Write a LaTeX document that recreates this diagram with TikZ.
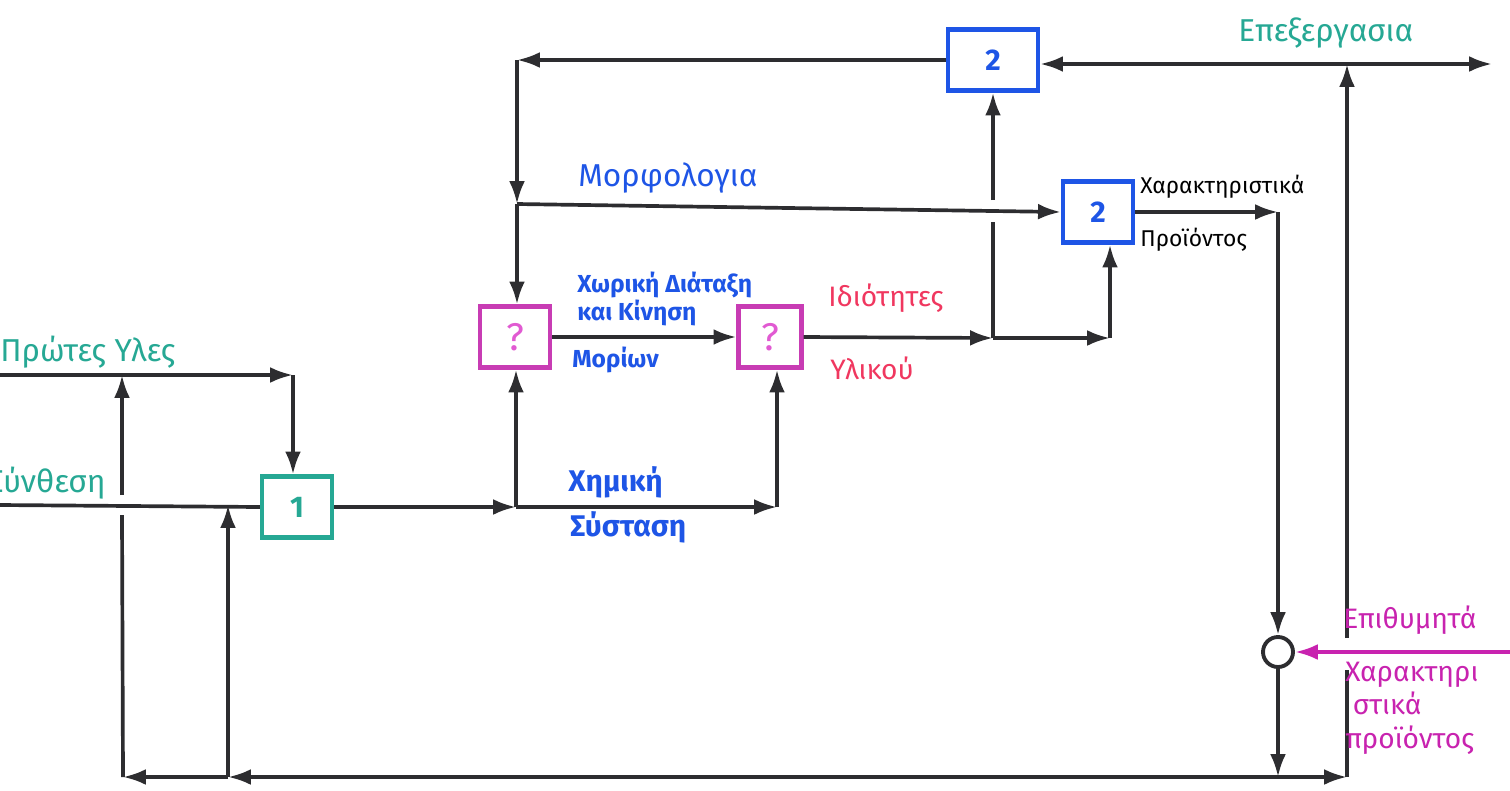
\documentclass[tikz,border=0pt]{standalone}
\usepackage{fontspec}
\setmainfont{Fira Sans}
\usetikzlibrary{positioning, arrows.meta, calc}

\definecolor{tealink}{RGB}{38,168,148}
\definecolor{blueink}{RGB}{30,85,230}
\definecolor{magink}{RGB}{200,60,180}
\definecolor{qink}{RGB}{225,90,210}
\definecolor{redink}{RGB}{240,55,95}
\definecolor{purpink}{RGB}{200,35,175}
\definecolor{lineink}{RGB}{45,45,48}

\begin{document}
\begin{tikzpicture}[x=0.2mm, y=-0.2mm,%
        block/.style={rectangle, draw, line width=2.4pt, fill=white, minimum width=14mm, minimum height=12.2mm, inner sep=0pt, font=\fontsize{17}{17}\selectfont\bfseries},
        query/.style={block, draw=magink, text=qink, font=\fontsize{22}{22}\selectfont},
        stage/.style={block, draw=blueink, text=blueink},
        compare/.style={circle, draw=lineink, line width=2.2pt, minimum size=6mm, inner sep=0pt},
        arrow/.style={-{Latex[length=13pt, width=9pt]}, line width=2.1pt, lineink},
        line/.style={line width=2.1pt, lineink},
        txt/.style={anchor=west, inner sep=0pt, font=\fontsize{18}{21}\selectfont},
        small/.style={anchor=west, inner sep=0pt, align=left, font=\fontsize{13}{16}\selectfont}%
    ]
        \useasboundingbox (0,0) rectangle (1510,790);

        \node[block, draw=tealink, text=tealink] (synth) at (297,507) {1};
        \node[query] (q1) at (515,337) {?};
        \node[query, minimum width=12.6mm] (q2) at (770,337) {?};
        \node[stage, minimum width=18mm] (proc) at (993,60) {2};
        \node[stage] (prod) at (1098,212) {2};
        \node[compare] (cmp) at (1278,652) {};

        \coordinate (rawin) at (0,375);
        \coordinate (rawj) at (122,375);
        \coordinate (rawc) at (293,375);
        \coordinate (synin) at (0,505);
        \coordinate (synj) at (228,505);
        \coordinate (chemj) at (516,507);
        \coordinate (chemc) at (777,507);
        \coordinate (topc) at (517,60);
        \coordinate (morj) at (517,204);
        \coordinate (propj) at (993,338);
        \coordinate (propc) at (1110,338);
        \coordinate (charc) at (1278,212);
        \coordinate (proj) at (1347,64);
        \coordinate (procout) at (1492,64);
        \coordinate (botl) at (123,777);
        \coordinate (botm) at (228,777);
        \coordinate (botj) at (1278,777);
        \coordinate (botr) at (1347,777);
        \coordinate (desin) at (1515,652);
        % gaps where lines cross
        \coordinate (gapa) at (122,515);
        \coordinate (gapb) at (122,495);
        \coordinate (gapc) at (993,222);
        \coordinate (gapd) at (993,200);
        \coordinate (gape) at (1347,670);
        \coordinate (gapf) at (1347,638);

        \draw[arrow] (rawin) -- (rawc);
        \draw[arrow] (rawc) -- (rawc |- synth.north);
        \draw[line] (synin) -- (synth.west);
        \draw[arrow] (synth.east) -- (chemj);
        \draw[arrow] (chemj) -- (chemj |- q1.south);
        \draw[arrow] (chemj) -- (chemc);
        \draw[arrow] (chemc) -- (chemc |- q2.south);
        \draw[arrow] (q1.east) -- (q2.west);
        \draw[arrow] (q2.east) -- (propj);
        \draw[arrow] (propj) -- (propc);
        \draw[arrow] (propc) -- (propc |- prod.south);
        \draw[line] (propj) -- (gapc);
        \draw[arrow] (gapd) -- (propj |- proc.south);

        \draw[arrow] (proc.west) -- (topc);
        \draw[arrow] (topc) -- (morj);
        \draw[arrow] (morj) -- (morj |- q1.north);
        \draw[arrow] (morj) -- (prod.west);
        \draw[arrow] (prod.east) -- (charc);
        \draw[arrow] (charc) -- (cmp.north);
        \draw[arrow, purpink] (desin) -- (cmp.east);
        \draw[arrow] (cmp.south) -- (botj);

        \draw[arrow] (botj) -- (botr);
        \draw[line] (botr) -- (gape);
        \draw[arrow] (gapf) -- (proj);
        \draw[arrow] (proj) -- (procout);
        \draw[arrow] (proj) -- (proj -| proc.east);

        \draw[arrow] (botj) -- (botm);
        \draw[arrow] (botm) -- (botl);
        \draw[arrow] (botm) -- (synj);
        \draw[line] (botl) -- (gapa);
        \draw[arrow] (gapb) -- (rawj);

        \node[txt, text=tealink] (rawtxt) at (0,352) {Πρώτες Υλες};
        \node[txt, text=tealink, anchor=east] (syntxt) at (106,483) {Σύνθεση};
        \node[txt, text=tealink] (proctxt) at (1238,33) {Επεξεργασια};
        \node[txt, text=blueink] (mortxt) at (578,178) {Μορφολογια};
        \node[small, text=blueink, font=\fontsize{14}{16}\selectfont\bfseries] (spatxt) at (577,299) {Χωρική Διάταξη\\και Κίνηση};
        \node[small, text=blueink, font=\fontsize{14}{16}\selectfont\bfseries] (moltxt) at (572,360) {Μορίων};
        \node[txt, text=redink, font=\fontsize{16}{18}\selectfont] (proptxt) at (828,298) {Ιδιότητες};
        \node[txt, text=redink, font=\fontsize{16}{18}\selectfont] (mattxt) at (830,368) {Υλικού};
        \node[txt, text=blueink, font=\fontsize{17}{20}\selectfont\bfseries] (chemtxt) at (568,482) {Χημική};
        \node[txt, text=blueink, font=\fontsize{17}{20}\selectfont\bfseries] (comptxt) at (570,527) {Σύσταση};
        \node[small, text=black] (chartxt) at (1140,187) {Χαρακτηριστικά};
        \node[small, text=black] (prodtxt) at (1140,240) {Προϊόντος};
        \node[txt, text=purpink, font=\fontsize{16}{18}\selectfont] (destxt) at (1343,620) {Επιθυμητά};
        \node[small, text=purpink, font=\fontsize{16}{19}\selectfont] (desctxt) at (1345,708) {Χαρακτηρι\\\ στικά\\προϊόντος};
    \end{tikzpicture}
\end{document}
